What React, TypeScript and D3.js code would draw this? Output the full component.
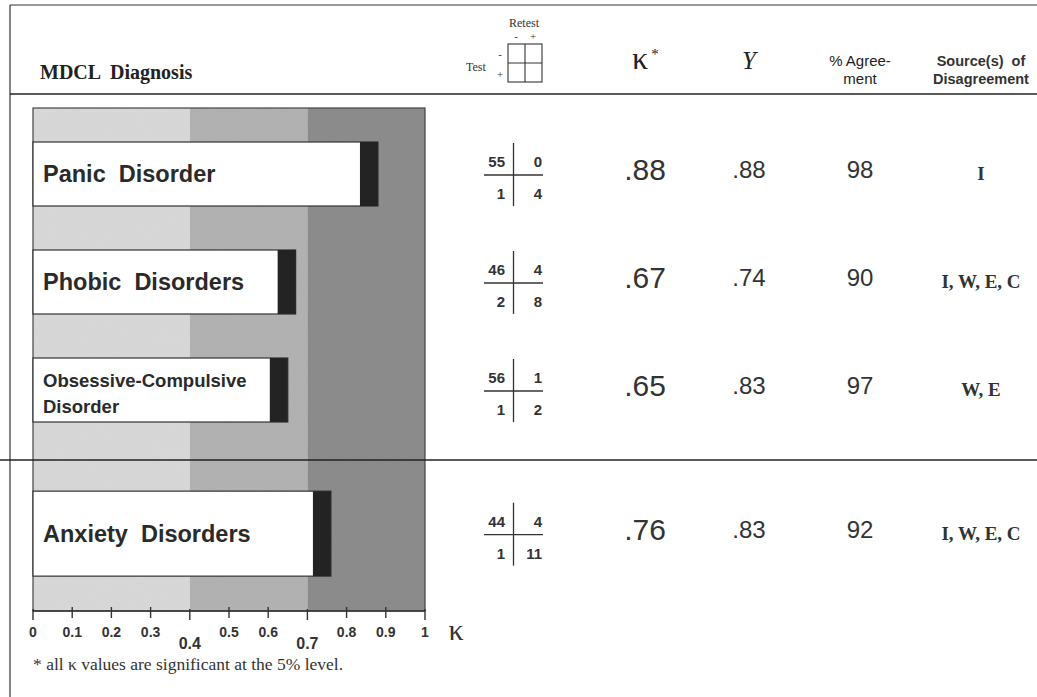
import React from "react";
import * as d3 from "d3";

const categories = ["Panic  Disorder", "Phobic  Disorders", "Obsessive-Compulsive|Disorder", "Anxiety  Disorders"];
const kappa = [0.88, 0.67, 0.65, 0.76];
const kappaLabels = [".88", ".67", ".65", ".76"];
const yuleY = [".88", ".74", ".83", ".83"];
const agreement = ["98", "90", "97", "92"];
const sources = ["I", "I, W, E, C", "W, E", "I, W, E, C"];
const tableTL = [55, 46, 56, 44];
const tableTR = [0, 4, 1, 4];
const tableBL = [1, 2, 1, 1];
const tableBR = [4, 8, 2, 11];
const ticks = [0, 0.1, 0.2, 0.3, 0.4, 0.5, 0.6, 0.7, 0.8, 0.9, 1];
const majorTicks = [0.4, 0.7];
const bands = [
  { from: 0, to: 0.4, color: "#dcdcdc" },
  { from: 0.4, to: 0.7, color: "#b5b5b5" },
  { from: 0.7, to: 1, color: "#8f8f8f" },
];

const SANS = "'Liberation Sans', Arial, sans-serif";
const SERIF = "'Liberation Serif', 'Times New Roman', serif";

export default function App() {
  const W = 1037, H = 697;
  const x = d3.scaleLinear().domain([0, 1]).range([33, 425]);
  // slot positions: rows 0..2, a group gap, then the summary row
  const slots = [0, 1, 2, 3.33];
  const yRow = d3.scaleLinear().domain([0, 1]).range([174, 282]);
  const barH = [64, 64, 64, 85];
  const plotTop = 108, plotBot = 611;
  const sepY = 460;
  const headerY = 94;

  return (
    <svg width={W} height={H} style={{ position: "absolute", left: 0, top: 0, background: "#fff" }}>
      <defs>
        <filter id="grain" x="0" y="0" width="1" height="1">
          <feTurbulence type="fractalNoise" baseFrequency="0.9" numOctaves="1" seed="3" result="n" />
          <feColorMatrix type="matrix" values="0 0 0 0 0  0 0 0 0 0  0 0 0 0 0  0 0 0 0.1 0" in="n" result="a" />
          <feComposite in="a" in2="SourceGraphic" operator="in" result="m" />
          <feMerge><feMergeNode in="SourceGraphic" /><feMergeNode in="m" /></feMerge>
        </filter>
      </defs>
      {/* frame */}
      <line x1={10} x2={W} y1={5} y2={5} stroke="#333" strokeWidth={1.2} />
      <line x1={10} x2={10} y1={5} y2={H} stroke="#333" strokeWidth={1.2} />
      <line x1={10} x2={W} y1={headerY} y2={headerY} stroke="#222" strokeWidth={1.6} />

      {/* header */}
      <text x={40} y={79} fontFamily={SERIF} fontWeight="bold" fontSize={20} fill="#222" style={{ whiteSpace: "pre" }}>MDCL  Diagnosis</text>
      <text x={524} y={27} fontFamily={SERIF} fontSize={12} textAnchor="middle" fill="#333">Retest</text>
      <text x={516} y={40} fontFamily={SERIF} fontSize={11} textAnchor="middle" fill="#333">-</text>
      <text x={533} y={40} fontFamily={SERIF} fontSize={11} textAnchor="middle" fill="#333">+</text>
      <rect x={508} y={44} width={34} height={38} fill="none" stroke="#333" strokeWidth={1.1} />
      <line x1={525} x2={525} y1={44} y2={82} stroke="#333" strokeWidth={1.1} />
      <line x1={508} x2={542} y1={63} y2={63} stroke="#333" strokeWidth={1.1} />
      <text x={466} y={71} fontFamily={SERIF} fontSize={12} fill="#333">Test</text>
      <text x={500} y={58} fontFamily={SERIF} fontSize={11} textAnchor="middle" fill="#333">-</text>
      <text x={500} y={78} fontFamily={SERIF} fontSize={11} textAnchor="middle" fill="#333">+</text>
      <text x={640} y={69} fontFamily={SERIF} fontSize={32} textAnchor="middle" fill="#222">κ</text>
      <text x={655} y={59} fontFamily={SERIF} fontSize={15} textAnchor="middle" fill="#222">*</text>
      <text x={749} y={69} fontFamily={SERIF} fontSize={25} fontStyle="italic" textAnchor="middle" fill="#222">Y</text>
      <text x={860} y={66} fontFamily={SANS} fontSize={15} textAnchor="middle" fill="#222">% Agree-</text>
      <text x={860} y={84} fontFamily={SANS} fontSize={15} textAnchor="middle" fill="#222">ment</text>
      <text x={981} y={66} fontFamily={SANS} fontWeight="bold" fontSize={14.5} textAnchor="middle" fill="#333" style={{ whiteSpace: "pre" }}>Source(s)  of</text>
      <text x={981} y={84} fontFamily={SANS} fontWeight="bold" fontSize={14.5} textAnchor="middle" fill="#333">Disagreement</text>

      {/* plot background bands */}
      <g filter="url(#grain)">
        {bands.map((b, i) => (
          <rect key={i} x={x(b.from)} y={plotTop} width={x(b.to) - x(b.from)} height={plotBot - plotTop} fill={b.color} />
        ))}
      </g>
      <rect x={x(0)} y={plotTop} width={x(1) - x(0)} height={plotBot - plotTop} fill="none" stroke="#444" strokeWidth={1.2} />

      {/* group separator */}
      <line x1={0} x2={W} y1={sepY} y2={sepY} stroke="#222" strokeWidth={1.6} />

      {/* bars */}
      {categories.map((c, i) => {
        const cy = yRow(slots[i]);
        const h = barH[i];
        const top = cy - h / 2;
        const endX = x(kappa[i]);
        const capW = 18;
        const lines = c.split("|");
        const multi = lines.length > 1;
        const fs = multi ? 18.5 : 23.5;
        return (
          <g key={c}>
            <rect x={x(0)} y={top} width={endX - x(0)} height={h} fill="#fff" stroke="#333" strokeWidth={1.2} />
            <rect x={endX - capW} y={top} width={capW} height={h} fill="#232323" />
            {lines.map((l, j) => (
              <text key={j} x={x(0) + 10} y={multi ? cy - 3 + j * 26 : cy + 8}
                fontFamily={SANS} fontWeight="bold" fontSize={fs} fill="#2a2a2a" style={{ whiteSpace: "pre" }}>{l}</text>
            ))}
          </g>
        );
      })}

      {/* right-hand table columns */}
      {categories.map((c, i) => {
        const cy = yRow(slots[i]);
        const ly = cy + 1;
        return (
          <g key={"t" + i}>
            <line x1={484} x2={543} y1={ly} y2={ly} stroke="#333" strokeWidth={1.3} />
            <line x1={513.5} x2={513.5} y1={ly - 32} y2={ly + 31} stroke="#333" strokeWidth={1.3} />
            <text x={505} y={ly - 8} fontFamily={SANS} fontWeight="bold" fontSize={15} textAnchor="end" fill="#333">{tableTL[i]}</text>
            <text x={542} y={ly - 8} fontFamily={SANS} fontWeight="bold" fontSize={15} textAnchor="end" fill="#333">{tableTR[i]}</text>
            <text x={505} y={ly + 24} fontFamily={SANS} fontWeight="bold" fontSize={15} textAnchor="end" fill="#333">{tableBL[i]}</text>
            <text x={542} y={ly + 24} fontFamily={SANS} fontWeight="bold" fontSize={15} textAnchor="end" fill="#333">{tableBR[i]}</text>
            <text x={645} y={cy + 6} fontFamily={SANS} fontSize={30} textAnchor="middle" fill="#333">{kappaLabels[i]}</text>
            <text x={749} y={cy + 4} fontFamily={SANS} fontSize={24} textAnchor="middle" fill="#333">{yuleY[i]}</text>
            <text x={860} y={cy + 4} fontFamily={SANS} fontSize={24} textAnchor="middle" fill="#333">{agreement[i]}</text>
            <text x={981} y={cy + 6} fontFamily={SERIF} fontWeight="bold" fontSize={19} textAnchor="middle" fill="#333">{sources[i]}</text>
          </g>
        );
      })}

      {/* axis */}
      <line x1={x(0)} x2={x(1)} y1={plotBot} y2={plotBot} stroke="#333" strokeWidth={1.3} />
      {ticks.map((t) => {
        const major = t === 0 || t === 1 || majorTicks.includes(t);
        return (
          <line key={"tk" + t} x1={x(t)} x2={x(t)} y1={major ? plotBot - 2 : plotBot - 4} y2={major ? plotBot + 9 : plotBot + 7}
            stroke="#333" strokeWidth={1.4} />
        );
      })}
      {ticks.map((t) => {
        const big = majorTicks.includes(t);
        return (
          <text key={"tl" + t} x={x(t)} y={big ? 649 : 637} fontFamily={SANS} fontWeight="bold"
            fontSize={big ? 16 : 14} textAnchor="middle" fill="#333">{String(t)}</text>
        );
      })}
      <text x={456} y={640} fontFamily={SERIF} fontSize={30} textAnchor="middle" fill="#333">κ</text>

      <text x={33} y={670} fontFamily={SERIF} fontSize={17.5} fill="#333">* all κ values are significant at the 5% level.</text>
    </svg>
  );
}
